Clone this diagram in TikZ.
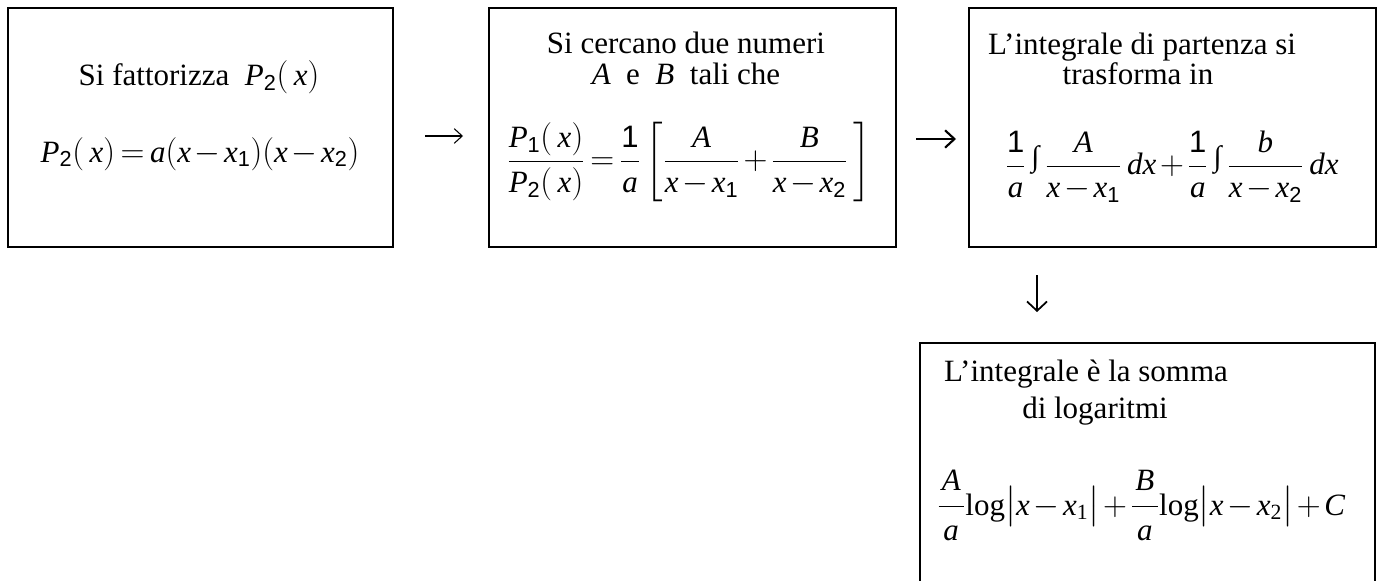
\documentclass[tikz,border=0pt]{standalone}
\usepackage{amsmath}
\usepackage{fontspec}
\setmainfont{Liberation Serif}
\newfontfamily\arialf{Liberation Sans}
\usetikzlibrary{arrows.meta}
\edef\myrmfam{\rmdefault}
\DeclareSymbolFont{tletters}{TU}{\myrmfam}{m}{it}
\DeclareMathSymbol{a}{\mathalpha}{tletters}{`a}
\DeclareMathSymbol{b}{\mathalpha}{tletters}{`b}
\DeclareMathSymbol{d}{\mathalpha}{tletters}{`d}
\DeclareMathSymbol{x}{\mathalpha}{tletters}{`x}
\DeclareMathSymbol{A}{\mathalpha}{tletters}{`A}
\DeclareMathSymbol{B}{\mathalpha}{tletters}{`B}
\DeclareMathSymbol{C}{\mathalpha}{tletters}{`C}
\DeclareMathSymbol{P}{\mathalpha}{tletters}{`P}
\newcommand{\sd}[1]{\text{\arialf #1}}
\newcommand{\mylog}{\textup{log}}
\newcommand{\smint}{\mathop{\raisebox{6.5pt}{\fontsize{22}{22}\selectfont ∫}}\nolimits}
\newcommand{\upnum}[1]{\makebox[19pt]{\raisebox{1.5pt}{$#1$}}}
\newcommand{\dnden}[1]{\makebox[19pt]{\raisebox{-2pt}{$#1$}}}
\newcommand{\fr}[2]{\genfrac{}{}{0.9pt}{0}{#1}{#2}}
\newcommand{\tightmath}{\medmuskip=2mu plus 1mu\thickmuskip=3mu plus 1mu}
\begin{document}
\begin{tikzpicture}[x=0.75pt,y=-0.75pt,
  box/.style={draw, line width=1.5pt, inner sep=0pt, anchor=north west},
  txt/.style={inner sep=0pt, anchor=base, font=\fontsize{23.25}{23.25}\selectfont\tightmath},
  thinarr/.style={line width=0.8pt, -{Straight Barb[length=6pt,width=11pt,line width=0.8pt]}},
  boldarr/.style={line width=1.6pt, -{Straight Barb[length=7pt,width=13pt,line width=1.6pt]}},
  medarr/.style={line width=1.3pt, -{Straight Barb[length=7pt,width=15pt,line width=1.3pt]}}]
\useasboundingbox (0,0) rectangle (1380,581);
\clip (0,0) rectangle (1380,581);
% boxes
\node[box, minimum width=288.75pt, minimum height=179.25pt] (b1) at (7,7) {};
\node[box, minimum width=305.25pt, minimum height=179.25pt] (b2) at (488,7) {};
\node[box, minimum width=305.25pt, minimum height=179.25pt] (b3) at (968,7) {};
\node[box, minimum width=341.25pt, minimum height=195pt] (b4) at (919,342) {};
% box 1
\node[txt] (t1) at (199,86) {Si fattorizza \ $P_{\sd{2}}(\,x)$};
\node[txt] (e1) at (200,162) {$P_{\sd{2}}(\,x) = a(x - x_{\sd{1}})(x - x_{\sd{2}})$};
% box 2
\node[txt] (t2a) at (686,54) {Si cercano due numeri};
\node[txt] (t2b) at (686,85) {$A$ \ e \ $B$ \ tali che};
\node[txt] (e2) at (689,170) {$\fr{P_{\sd{1}}(\,x)}{P_{\sd{2}}(\,x)} = \fr{\sd{1}}{a}\left[\fr{A}{x - x_{\sd{1}}} + \fr{B}{x - x_{\sd{2}}}\,\right]$};
% box 3
\node[txt] (t3a) at (1142,55) {L’integrale di partenza si};
\node[txt] (t3b) at (1138,85) {trasforma in};
\node[txt] (e3) at (1172,175) {$\fr{\sd{1}}{a}\smint\fr{A}{x - x_{\sd{1}}}\,dx + \fr{\sd{1}}{a}\smint\fr{b}{x - x_{\sd{2}}}\,dx$};
% box 4
\node[txt] (t4a) at (1086,381) {L’integrale è la somma};
\node[txt] (t4b) at (1095,418) {di logaritmi};
\node[txt] (e4) at (1141,515) {$\fr{\upnum{A}}{\dnden{a}}\mylog\bigl|x - x_{\text{1}}\bigr| + \fr{\upnum{B}}{\dnden{a}}\mylog\bigl|x - x_{\text{2}}\bigr| + C$};
% arrows
\coordinate (ya1) at (0,136);
\coordinate (ya2) at (0,139);
\coordinate (xd) at (1037,0);
\draw[thinarr, shorten <=23.25pt, shorten >=18.75pt] (b1.east |- ya1) -- (b2.west |- ya1);
\draw[boldarr, shorten <=14.25pt, shorten >=9pt] (b2.east |- ya2) -- (b3.west |- ya2);
\draw[medarr, shorten <=20.25pt, shorten >=22.5pt] (b3.south -| xd) -- (b4.north -| xd);
\end{tikzpicture}
\end{document}
